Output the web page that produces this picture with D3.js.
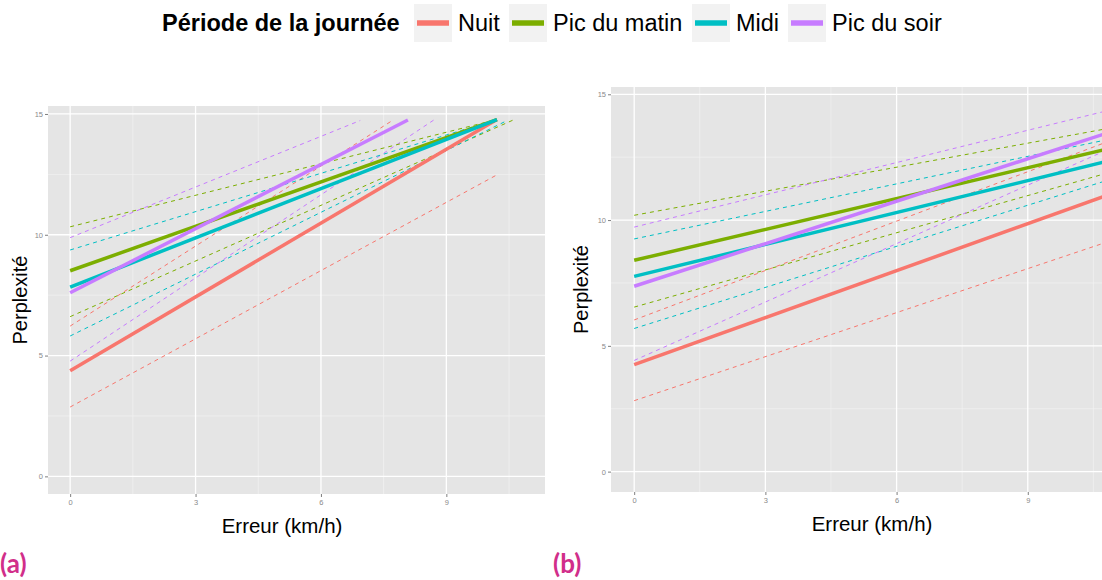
<!DOCTYPE html>
<html>
<head>
<meta charset="utf-8">
<script src="https://cdn.jsdelivr.net/npm/d3@7"></script>
<style>
  body { margin: 0; background: #fff; }
  svg { display: block; font-family: "Liberation Sans", Arial, sans-serif; }
</style>
</head>
<body>
<div id="chart"></div>
<script>
// periods of the day and their ggplot colours
var periods = ["Nuit", "Pic du matin", "Midi", "Pic du soir"];
var periodColors = ["#F8766D", "#7CAE00", "#00BFC4", "#C77CFF"];

var xTicks = [0, 3, 6, 9];
var yTicks = [0, 5, 10, 15];
var xMinor = [1.5, 4.5, 7.5, 10.5];
var yMinor = [2.5, 7.5, 12.5];

// each line: [x start, y start, x end, y end], one per period
var fitA   = [[0, 4.37, 10.21, 14.77], [0, 8.51, 10.21, 14.77], [0, 7.83, 10.21, 14.77], [0, 7.60, 8.08, 14.75]];
var upperA = [[0, 6.22, 7.70, 14.72],  [0, 10.33, 10.21, 14.77], [0, 9.37, 10.21, 14.77], [0, 9.88, 6.94, 14.73]];
var lowerA = [[0, 2.87, 10.21, 12.48], [0, 6.61, 10.60, 14.75], [0, 5.81, 10.42, 14.70], [0, 4.77, 8.70, 14.75]];

var fitB   = [[0, 4.25, 10.8, 10.98], [0, 8.40, 10.8, 12.82], [0, 7.76, 10.8, 12.33], [0, 7.37, 10.8, 13.45]];
var upperB = [[0, 6.03, 10.8, 13.10], [0, 10.19, 10.8, 13.63], [0, 9.25, 10.8, 13.19], [0, 9.72, 10.8, 14.34]];
var lowerB = [[0, 2.82, 10.8, 9.12],  [0, 6.54, 10.8, 11.86], [0, 5.69, 10.8, 11.57], [0, 4.42, 10.8, 12.78]];

var W = 1102, H = 580;
var svg = d3.select("#chart").append("svg").attr("width", W).attr("height", H);

var color = d3.scaleOrdinal().domain(periods).range(periodColors);

// ---- legend ----
var legend = svg.append("g");
legend.append("text")
  .attr("x", 162).attr("y", 31)
  .style("font-size", "23.5px").style("font-weight", "bold")
  .text("Période de la journée");

var keyX = [414, 509, 692, 788];
periods.forEach(function(p, i) {
  var g = legend.append("g").attr("transform", "translate(" + keyX[i] + ",4)");
  g.append("rect").attr("width", 38).attr("height", 38).attr("fill", "#f2f2f2");
  g.append("line").attr("x1", 3).attr("x2", 35).attr("y1", 19).attr("y2", 19)
    .attr("stroke", color(p)).attr("stroke-width", 5.5);
  g.append("text").attr("x", 44).attr("y", 27)
    .style("font-size", "23.5px").text(p);
});

function drawPanel(opt) {
  var x = d3.scaleLinear().domain([-0.53, 11.36]).range([opt.left, opt.left + opt.width]);
  var y = d3.scaleLinear().domain(opt.yDomain).range([opt.bottom, opt.top]);
  var g = svg.append("g");

  g.append("rect")
    .attr("x", opt.left).attr("y", opt.top)
    .attr("width", opt.width).attr("height", opt.bottom - opt.top)
    .attr("fill", "#e5e5e5");

  // minor grid
  g.selectAll(".xminor").data(xMinor).enter().append("line")
    .attr("x1", d => x(d)).attr("x2", d => x(d))
    .attr("y1", opt.top).attr("y2", opt.bottom)
    .attr("stroke", "#f2f2f2").attr("stroke-width", 0.7);
  g.selectAll(".yminor").data(yMinor).enter().append("line")
    .attr("x1", opt.left).attr("x2", opt.left + opt.width)
    .attr("y1", d => y(d)).attr("y2", d => y(d))
    .attr("stroke", "#f2f2f2").attr("stroke-width", 0.7);
  // major grid
  g.selectAll(".xmajor").data(xTicks).enter().append("line")
    .attr("x1", d => x(d)).attr("x2", d => x(d))
    .attr("y1", opt.top).attr("y2", opt.bottom)
    .attr("stroke", "#fff").attr("stroke-width", 1.3);
  g.selectAll(".ymajor").data(yTicks).enter().append("line")
    .attr("x1", opt.left).attr("x2", opt.left + opt.width)
    .attr("y1", d => y(d)).attr("y2", d => y(d))
    .attr("stroke", "#fff").attr("stroke-width", 1.3);

  // axes
  var xAxis = d3.axisBottom(x).tickValues(xTicks).tickSize(3).tickPadding(3);
  var yAxis = d3.axisLeft(y).tickValues(yTicks).tickSize(3).tickPadding(2);
  g.append("g").attr("transform", "translate(0," + opt.bottom + ")").call(xAxis)
    .call(a => a.select(".domain").remove());
  g.append("g").attr("transform", "translate(" + opt.left + ",0)").call(yAxis)
    .call(a => a.select(".domain").remove());
  g.selectAll(".tick line").attr("stroke", "#7f7f7f");
  g.selectAll(".tick text").attr("fill", "#8a8a8a")
    .style("font-size", "7.5px").style("font-family", "Liberation Sans, Arial, sans-serif");

  var clipId = "clip" + opt.name;
  svg.append("clipPath").attr("id", clipId).append("rect")
    .attr("x", opt.left).attr("y", opt.top)
    .attr("width", opt.width).attr("height", opt.bottom - opt.top);

  var line = d3.line().x(d => x(d[0])).y(d => y(d[1]));
  var lines = g.append("g").attr("clip-path", "url(#" + clipId + ")");

  function addSet(set, dashed) {
    set.forEach(function(s, i) {
      lines.append("path")
        .attr("d", line([[s[0], s[1]], [s[2], s[3]]]))
        .attr("fill", "none")
        .attr("stroke", color(periods[i]))
        .attr("stroke-width", dashed ? 1 : 3.5)
        .attr("stroke-dasharray", dashed ? "4,4" : null);
    });
  }
  addSet(opt.lower, true);
  addSet(opt.upper, true);
  addSet(opt.fit, false);

  // axis titles
  g.append("text")
    .attr("transform", "translate(" + opt.yTitleX + "," + (opt.top + opt.bottom) / 2 + ") rotate(-90)")
    .attr("text-anchor", "middle")
    .style("font-size", "20px")
    .text("Perplexité");
  g.append("text")
    .attr("x", opt.xTitleX).attr("y", opt.xTitleY)
    .attr("text-anchor", "middle")
    .style("font-size", "20.5px")
    .text("Erreur (km/h)");

  g.append("text")
    .attr("x", opt.tagX).attr("y", 573)
    .style("font-family", "Lato, 'Open Sans', sans-serif")
    .style("font-weight", "bold").style("font-size", "26px")
    .attr("fill", "#D12E8A")
    .text(opt.tag);
}

drawPanel({
  name: "a", left: 48, width: 497, top: 106, bottom: 494,
  yDomain: [-0.73, 15.33],
  fit: fitA, upper: upperA, lower: lowerA,
  yTitleX: 27, xTitleX: 282, xTitleY: 533, tagX: 0, tag: "(a)"
});

drawPanel({
  name: "b", left: 611, width: 520, top: 87, bottom: 492,
  yDomain: [-0.81, 15.29],
  fit: fitB, upper: upperB, lower: lowerB,
  yTitleX: 588, xTitleX: 872, xTitleY: 531, tagX: 553, tag: "(b)"
});
</script>
</body>
</html>
